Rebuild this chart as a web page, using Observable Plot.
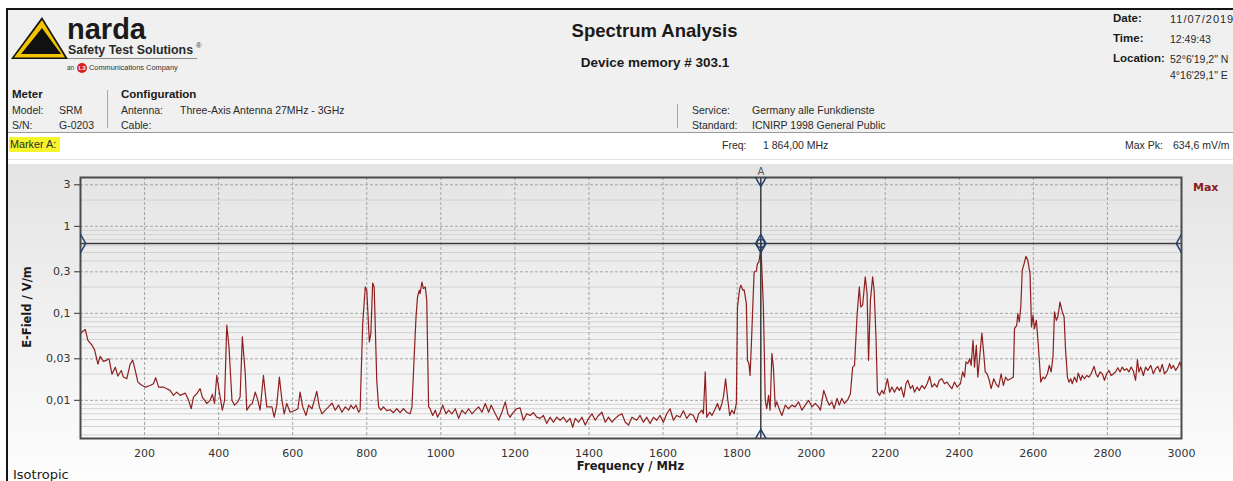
<!DOCTYPE html>
<html><head><meta charset="utf-8">
<script src="https://cdn.jsdelivr.net/npm/d3@7"></script>
<script src="https://cdn.jsdelivr.net/npm/@observablehq/plot@0.6"></script>
<style>
html,body{margin:0;padding:0;background:#fff;}
#page{position:relative;width:1233px;height:481px;overflow:hidden;background:#fff;font-family:"Liberation Sans",Arial,sans-serif;}
#hdr{position:absolute;left:8px;top:10px;width:1225px;height:122px;background:#f0f0f0;}
#chart{position:absolute;left:8px;top:164px;}
#border{position:absolute;left:6px;top:8px;width:1300px;height:600px;border-left:2px solid #151515;border-top:2px solid #151515;z-index:5;pointer-events:none;}
.hl{position:absolute;}
</style></head>
<body>
<div id="page">
  <div id="hdr"></div>
  <div class="hl" style="left:8px;top:132px;width:1225px;height:1px;background:#9a9a9a"></div>
  <div class="hl" style="left:8px;top:159px;width:1225px;height:1px;background:#e4e4e4"></div>
  <div class="hl" style="left:107px;top:90px;width:1px;height:38px;background:#a8a8a8"></div>
  <div class="hl" style="left:677px;top:104px;width:1px;height:24px;background:#a8a8a8"></div>
  <div class="hl" style="left:68px;top:58px;width:129px;height:1px;background:#8a8a8a"></div>
  <div class="hl" style="left:9px;top:137px;width:51px;height:15px;background:#f5f52a"></div>
  <svg class="hl" style="left:10px;top:16px" width="60" height="46">
    <polygon points="32,1 1,43 58,43" fill="#111"/>
    <polygon points="32,4 4,41.5 55,41.5" fill="#f4c400"/>
    <polygon points="32,12 11,38 51,38" fill="#111"/>
  </svg>
  <svg class="hl" style="left:76px;top:62px" width="12" height="12">
    <circle cx="6" cy="6" r="5" fill="#d42020"/>
    <text x="6" y="8.3" text-anchor="middle" font-size="6" font-weight="bold" fill="#fff" font-family="Liberation Sans">L3</text>
  </svg>
  <div id="chart"></div>
  <div id="border"></div>
</div>
<script>
// ---- spectrum data (frequency in MHz, E-field in V/m) ----
const freqMHz = [
 27,31,40,47,58,65,74,80,89,98,104,112,121,128,137,143,152,161,168,175,182,193,202,215,224,230,238,251,260,269,278,287,296,310,319,326,332,341,350,356,368,377,383,389,395,401,410,416,422,428,436,443,452,458,464,472,476,485,491,499,506,512,521,530,
 544,550,557,564,571,577,584,593,607,614,620,627,636,643,652,665,672,679,688,697,706,715,724,733,742,751,757,764,771,778,782,789,796,800,807,811,816,820,827,832,838,845,854,863,872,881,890,899,908,917,922,928,933,937,942,944,949,953,958,962,967,971,978,985,991,998,1005,1014,
 1021,1030,1039,1048,1057,1066,1075,1084,1093,1102,1111,1120,1129,1136,1147,1156,1165,1174,1181,1187,1196,1205,1214,1223,1232,1241,1250,1259,1268,1277,1286,1295,1304,1313,1322,1331,1340,1349,1356,1363,1372,1381,1390,1399,1408,1417,1426,1435,1444,1453,1462,1471,1480,1489,1498,1507,1516,
 1529,1538,1547,1556,1565,1574,1583,1592,1601,1610,1619,1628,1637,1646,1655,1664,1673,1682,1690,1696,1705,1709,1714,1718,1726,1732,1741,1747,1753,1759,1763,1769,1774,1780,1786,1792,1798,1801,1807,1810,1816,1819,1825,1828,1832,1835,1839,1843,1846,1852,1855,1859,1862,1864,1871,1876,1880,1885,1889,1894,1898,1903,1907,1915,1921,1930,1939,1948,1957,1966,1975,1984,1993,2002,2011,
 2020,2025,2034,2043,2049,2056,2062,2070,2076,2083,2090,2099,2106,2112,2117,2124,2130,2134,2139,2146,2151,2155,2160,2166,2170,2175,2179,2185,2191,2196,2200,2206,2212,2218,2225,2232,2238,2243,2250,2256,2261,2268,2274,2279,2286,2292,2299,2306,2313,2320,2326,2333,2340,2346,2353,2360,2367,2373,2380,2387,2394,2403,2409,2414,2418,2423,2428,2432,2437,2441,2446,2450,2455,2461,2466,2470,2475,2481,2486,2493,2499,2506,2513,
 2519,2525,2531,2539,2546,2549,2555,2558,2562,2566,2570,2575,2580,2585,2591,2595,2599,2603,2608,2613,2620,2626,2631,2638,2643,2648,2653,2657,2662,2666,2672,2677,2683,2687,2692,2696,2701,2705,2711,2717,2721,2728,2732,2738,2744,2750,2756,2764,2769,2774,2780,2786,2792,2798,2804,2810,2816,2822,2828,2834,2840,2846,2852,2858,2864,2870,2876,2881,2885,2890,2897,2903,2909,2917,2924,2930,2936,2942,2948,2954,2962,2968,2972,2978,2984,2990,2996,3000
];
const eField = [
 0.058,0.061,0.065,0.049,0.043,0.038,0.026,0.032,0.028,0.029,0.030,0.020,0.024,0.019,0.022,0.0185,0.0177,0.026,0.029,0.022,0.0162,0.0148,0.0142,0.0148,0.0155,0.0182,0.0142,0.0142,0.0136,0.013,0.0114,0.0124,0.0114,0.0121,0.010,0.008,0.0109,0.0119,0.0136,0.0109,0.0092,0.010,0.0117,0.0092,0.0193,0.013,0.0077,0.010,0.073,0.041,0.010,0.0088,0.0096,0.0109,0.0535,0.020,0.0077,0.0088,0.0092,0.0124,0.010,0.0077,0.0193,0.0084,
 0.0084,0.0064,0.0088,0.0185,0.010,0.007,0.0092,0.0073,0.0077,0.008,0.0124,0.0084,0.0067,0.0088,0.008,0.0127,0.0084,0.007,0.0077,0.0084,0.0093,0.0077,0.0088,0.0073,0.0084,0.0077,0.0088,0.008,0.0088,0.0073,0.0077,0.076,0.201,0.184,0.0468,0.0583,0.223,0.201,0.017,0.0084,0.0077,0.0084,0.0076,0.0078,0.0072,0.008,0.0072,0.008,0.0073,0.007,0.0084,0.0315,0.091,0.154,0.184,0.168,0.229,0.192,0.201,0.141,0.0084,0.008,0.0067,0.0077,0.0064,0.0073,0.0088,0.007,
 0.0077,0.007,0.008,0.0062,0.0077,0.007,0.008,0.007,0.0077,0.0084,0.0073,0.0092,0.0073,0.0088,0.007,0.0059,0.0073,0.0096,0.007,0.0064,0.0073,0.008,0.0082,0.0059,0.007,0.0067,0.0072,0.0064,0.0062,0.0067,0.0054,0.0064,0.0056,0.0064,0.0059,0.0064,0.0056,0.0062,0.0049,0.0062,0.0056,0.0064,0.0052,0.0062,0.007,0.0059,0.0067,0.0073,0.0056,0.0064,0.0056,0.0062,0.0067,0.007,0.0056,0.0052,0.0064,
 0.0059,0.0067,0.0056,0.0064,0.0054,0.0064,0.0059,0.0067,0.0056,0.007,0.008,0.0059,0.0067,0.0064,0.0076,0.0062,0.007,0.0067,0.0056,0.007,0.0077,0.007,0.0212,0.0064,0.0073,0.0067,0.008,0.0092,0.0077,0.0092,0.0109,0.0177,0.0109,0.0067,0.0077,0.007,0.0092,0.118,0.192,0.21,0.184,0.186,0.129,0.0288,0.0264,0.0193,0.049,0.141,0.299,0.307,0.372,0.389,0.485,0.6346,0.118,0.010,0.008,0.0114,0.0077,0.0344,0.0241,0.0084,0.0096,0.0077,0.0067,0.0088,0.008,0.0088,0.0084,0.0096,0.0077,0.0088,0.010,0.0084,0.0092,
 0.0084,0.0077,0.013,0.010,0.0088,0.0096,0.008,0.0105,0.0088,0.0105,0.0092,0.0102,0.0119,0.0241,0.0252,0.0948,0.201,0.118,0.124,0.262,0.168,0.0288,0.141,0.262,0.184,0.0535,0.0124,0.0114,0.013,0.0119,0.0136,0.0177,0.0124,0.0142,0.0124,0.0142,0.013,0.0142,0.0109,0.0155,0.017,0.0136,0.0148,0.0124,0.0142,0.013,0.0148,0.0136,0.0155,0.0188,0.0142,0.0155,0.0142,0.017,0.0177,0.0155,0.0162,0.0148,0.0136,0.0162,0.0142,0.0155,0.0212,0.0185,0.0276,0.0264,0.0301,0.0252,0.049,0.0241,0.0429,0.0185,0.0315,0.0594,0.0344,0.0212,0.0202,0.017,0.0136,0.0177,0.0155,0.0142,0.0202,
 0.0148,0.0185,0.017,0.0177,0.0185,0.0667,0.0728,0.099,0.0795,0.118,0.312,0.372,0.452,0.406,0.286,0.0697,0.0948,0.0667,0.083,0.0448,0.0162,0.0185,0.0177,0.0202,0.0252,0.0212,0.0315,0.104,0.083,0.0908,0.135,0.108,0.0908,0.0376,0.0185,0.0162,0.0177,0.0155,0.0185,0.0162,0.0206,0.017,0.0193,0.0177,0.0193,0.0185,0.0202,0.0246,0.0202,0.0185,0.0212,0.0202,0.017,0.0202,0.0221,0.0193,0.0202,0.0212,0.0237,0.0212,0.0241,0.0221,0.0231,0.0212,0.0241,0.0217,0.017,0.0293,0.0212,0.0241,0.0193,0.0241,0.0221,0.0252,0.0202,0.0231,0.0246,0.0212,0.0259,0.0202,0.0221,0.0264,0.0231,0.0252,0.0221,0.0241,0.0276,0.0231
];
const xTicks = [200,400,600,800,1000,1200,1400,1600,1800,2000,2200,2400,2600,2800,3000];
const yTicks = [0.01,0.03,0.1,0.3,1,3];
const yMinor = [0.004,0.005,0.006,0.007,0.008,0.009,0.02,0.04,0.05,0.06,0.07,0.08,0.09,0.2,0.4,0.5,0.6,0.7,0.8,0.9,2];
const xDomain = [27, 3000];
const yDomain = [0.00364, 3.64];
const markerFreq = 1864;   // Marker A, MHz
const maxPeak = 0.6346;    // V/m

const data = freqMHz.map((f, i) => ({f, v: eField[i]}));
const markers = [
  {x: xDomain[0], y: maxPeak}, {x: xDomain[1], y: maxPeak},
  {x: markerFreq, y: yDomain[1]}, {x: markerFreq, y: yDomain[0]},
  {x: markerFreq, y: maxPeak}
];

const chart = Plot.plot({
  width: 1225, height: 317,
  marginLeft: 72, marginRight: 52, marginTop: 13, marginBottom: 43,
  style: {background: "linear-gradient(to bottom, #e4e4e4 0%, #fdfdfd 100%)", fontFamily: "'DejaVu Sans', Verdana, sans-serif", fontSize: "11px", color: "#333", overflow: "visible"},
  x: {domain: xDomain, ticks: xTicks, tickFormat: d => String(d), tickSize: 0, tickPadding: 11, label: null},
  y: {type: "log", domain: yDomain, ticks: yTicks, tickFormat: d => String(d).replace(".", ","), tickSize: 6, tickPadding: 4, label: null},
  marks: [
    Plot.ruleY(yMinor, {stroke: "#d2d2d2", strokeWidth: 1}),
    Plot.ruleY(yTicks, {stroke: "#a4a4a4", strokeDasharray: "3,2"}),
    Plot.ruleX(xTicks.filter(t => t < 3000), {stroke: "#a4a4a4", strokeDasharray: "3,2"}),
    Plot.line(data, {x: "f", y: "v", stroke: "#8e1f1f", strokeWidth: 1.2}),
    Plot.ruleY([maxPeak], {stroke: "#3a3a3a", strokeWidth: 1.5}),
    Plot.ruleX([markerFreq], {stroke: "#3a3a3a", strokeWidth: 1.5}),
    Plot.frame({stroke: "#4a4a4a", strokeWidth: 2}),
    Plot.dot(markers, {x: "x", y: "y", symbol: "diamond", r: 5.5, stroke: "#22406b", strokeWidth: 1.5, fill: "none", clip: true}),
    Plot.dot([markers[4]], {x: "x", y: "y", r: 4, stroke: "#22406b", strokeWidth: 1.5, fill: "none"}),
    Plot.text(["A"], {x: [markerFreq], frameAnchor: "top", dy: -10, fill: "#555", fontSize: 10})
  ]
});
document.getElementById("chart").appendChild(chart);

// ---- text overlays ----
const page = document.getElementById("page");
function put(txt, x, base, o = {}) {
  const fs = o.size || 10.5;
  const d = document.createElement("div");
  d.textContent = txt;
  d.style.cssText = `position:absolute;white-space:nowrap;z-index:6;line-height:${fs}px;font-size:${fs}px;left:${x}px;top:${base - 0.85 * fs}px;` +
    `font-family:${o.family || '"Liberation Sans", Arial, sans-serif'};font-weight:${o.bold ? "bold" : "normal"};color:${o.color || "#2a2a2a"};` +
    (o.center ? "transform:translateX(-50%);" : "") + (o.ls ? `letter-spacing:${o.ls}px;` : "");
  page.appendChild(d);
  return d;
}
const SANS = "'DejaVu Sans', Verdana, sans-serif";
put("narda", 67, 39.5, {size: 29, bold: true, color: "#1a1a1a"});
put("Safety Test Solutions", 68, 55, {size: 12.4, bold: true, color: "#2a2a2a"});
put("®", 196, 48, {size: 7.5, color: "#333"});
put("an", 67, 70.5, {size: 6.5, color: "#333"});
put("Communications Company", 89, 70.5, {size: 7.4, color: "#333"});
put("Spectrum Analysis", 654.5, 38, {size: 18.5, bold: true, center: true, color: "#1a1a1a"});
put("Device memory # 303.1", 655, 67, {size: 13.5, bold: true, center: true, color: "#1a1a1a"});
put("Date:", 1113, 23, {size: 11.5, bold: true, color: "#1a1a1a"});
put("11/07/2019", 1170, 23, {size: 11, ls: 1});
put("Time:", 1113, 43, {size: 11.5, bold: true, color: "#1a1a1a"});
put("12:49:43", 1170, 43);
put("Location:", 1113, 63, {size: 11.5, bold: true, color: "#1a1a1a"});
put("52°6'19,2\" N", 1170, 63);
put("4°16'29,1\" E", 1170, 79);
put("Meter", 12, 99, {size: 11.5, bold: true, color: "#1a1a1a"});
put("Model:", 12, 114);
put("SRM", 59, 114);
put("S/N:", 12, 128.5);
put("G-0203", 59, 128.5);
put("Configuration", 121, 99, {size: 11.5, bold: true, color: "#1a1a1a"});
put("Antenna:", 121, 114);
put("Three-Axis Antenna 27MHz - 3GHz", 180, 114);
put("Cable:", 121, 128.5);
put("Service:", 692, 114);
put("Germany alle Funkdienste", 752, 114);
put("Standard:", 692, 128.5);
put("ICNIRP 1998 General Public", 752, 128.5);
put("Marker A:", 10, 148.5, {size: 10.8});
put("Freq:", 722, 148.5);
put("1 864,00 MHz", 763, 148.5);
put("Max Pk:", 1125, 148.5);
put("634,6 mV/m", 1173, 148.5);
put("Max", 1193, 191.5, {size: 11, bold: true, color: "#8b1a1a", family: SANS});
put("Frequency / MHz", 630.5, 470.5, {size: 11.5, bold: true, center: true, color: "#1a1a1a", family: SANS});
put("Isotropic", 13, 479.5, {size: 13, color: "#1a1a1a", family: SANS});
const yl = put("E-Field / V/m", 0, 0, {size: 11.5, bold: true, color: "#1a1a1a", family: SANS});
yl.style.left = "28px"; yl.style.top = "307px"; yl.style.transform = "translate(-50%,-50%) rotate(-90deg)";
</script>
</body></html>
